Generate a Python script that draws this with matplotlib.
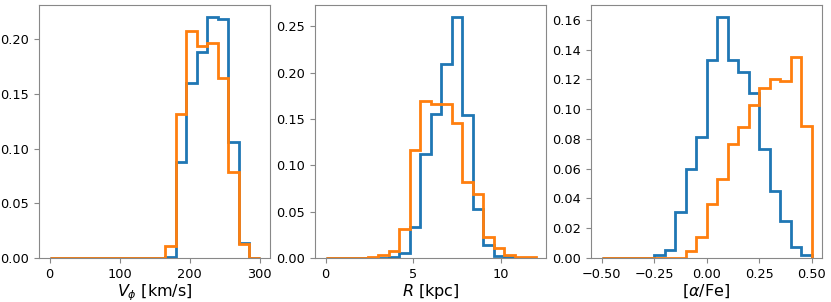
import numpy as np
import matplotlib
matplotlib.use("Agg")
import matplotlib.pyplot as plt

# Bin layout for each panel: (start, stop, number of bins)
vphi_bins = (0, 300, 20)
r_bins = (0, 12, 20)
afe_bins = (-0.5, 0.5, 20)

# Fractions per bin (blue series, orange series)
vphi_blue = [0, 0, 0, 0, 0, 0, 0, 0, 0, 0, 0, 0.001, 0.0875, 0.1605, 0.1884,
             0.2204, 0.2182, 0.1058, 0.014, 0]
vphi_orange = [0, 0, 0, 0, 0, 0, 0, 0, 0, 0, 0, 0.011, 0.1313, 0.2076, 0.1936,
               0.197, 0.1644, 0.0787, 0.0128, 0]

r_blue = [0, 0, 0, 0, 0, 0, 0.001, 0.0054, 0.0334, 0.112, 0.155, 0.209, 0.260,
          0.154, 0.0527, 0.0136, 0.0018, 0.0007, 0, 0]
r_orange = [0, 0, 0, 0, 0.001, 0.0036, 0.0075, 0.031, 0.116, 0.169, 0.166,
            0.166, 0.146, 0.082, 0.069, 0.0226, 0.011, 0.003, 0.0014, 0.0007]

afe_blue = [0, 0, 0, 0, 0, 0.002, 0.0056, 0.031, 0.0596, 0.0815, 0.1328,
            0.1618, 0.1328, 0.125, 0.111, 0.0732, 0.0449, 0.0248, 0.0071, 0.0018]
afe_orange = [0, 0, 0, 0, 0, 0, 0, 0, 0.0047, 0.0141, 0.0364, 0.0529, 0.0765,
              0.0877, 0.1029, 0.114, 0.1205, 0.119, 0.1352, 0.0888]

xlabels = [r"$V_\phi$ [km/s]", r"$R$ [kpc]", r"[$\alpha$/Fe]"]
xticks = [[0, 100, 200, 300], [0, 5, 10], [-0.5, -0.25, 0.0, 0.25, 0.5]]
xticklabels = [["0", "100", "200", "300"], ["0", "5", "10"],
               ["\u22120.50", "\u22120.25", "0.00", "0.25", "0.50"]]

panels = [
    (vphi_bins, vphi_blue, vphi_orange),
    (r_bins, r_blue, r_orange),
    (afe_bins, afe_blue, afe_orange),
]

fig = plt.figure(figsize=(8.31, 3.02), dpi=100)
lefts = [39 / 831, 315 / 831, 591 / 831]
width = 231 / 831
bottom = 44 / 302
height = 253 / 302

spine_col = "#888888"
for left, (bins, blue, orange), lab, tk, tl in zip(lefts, panels, xlabels,
                                                   xticks, xticklabels):
    ax = fig.add_axes([left, bottom, width, height])
    edges = np.linspace(*bins[:2], bins[2] + 1)
    ax.stairs(blue, edges, color="#1f77b4", lw=2)
    ax.stairs(orange, edges, color="#ff7f0e", lw=2)
    ax.set_xticks(tk)
    ax.set_xticklabels(tl)
    ax.set_xlabel(lab, fontsize=11.5, labelpad=1)
    ax.tick_params(labelsize=9.3, color=spine_col, length=3.5)
    for s in ax.spines.values():
        s.set_color(spine_col)

fig.savefig("out.png", dpi=100)
